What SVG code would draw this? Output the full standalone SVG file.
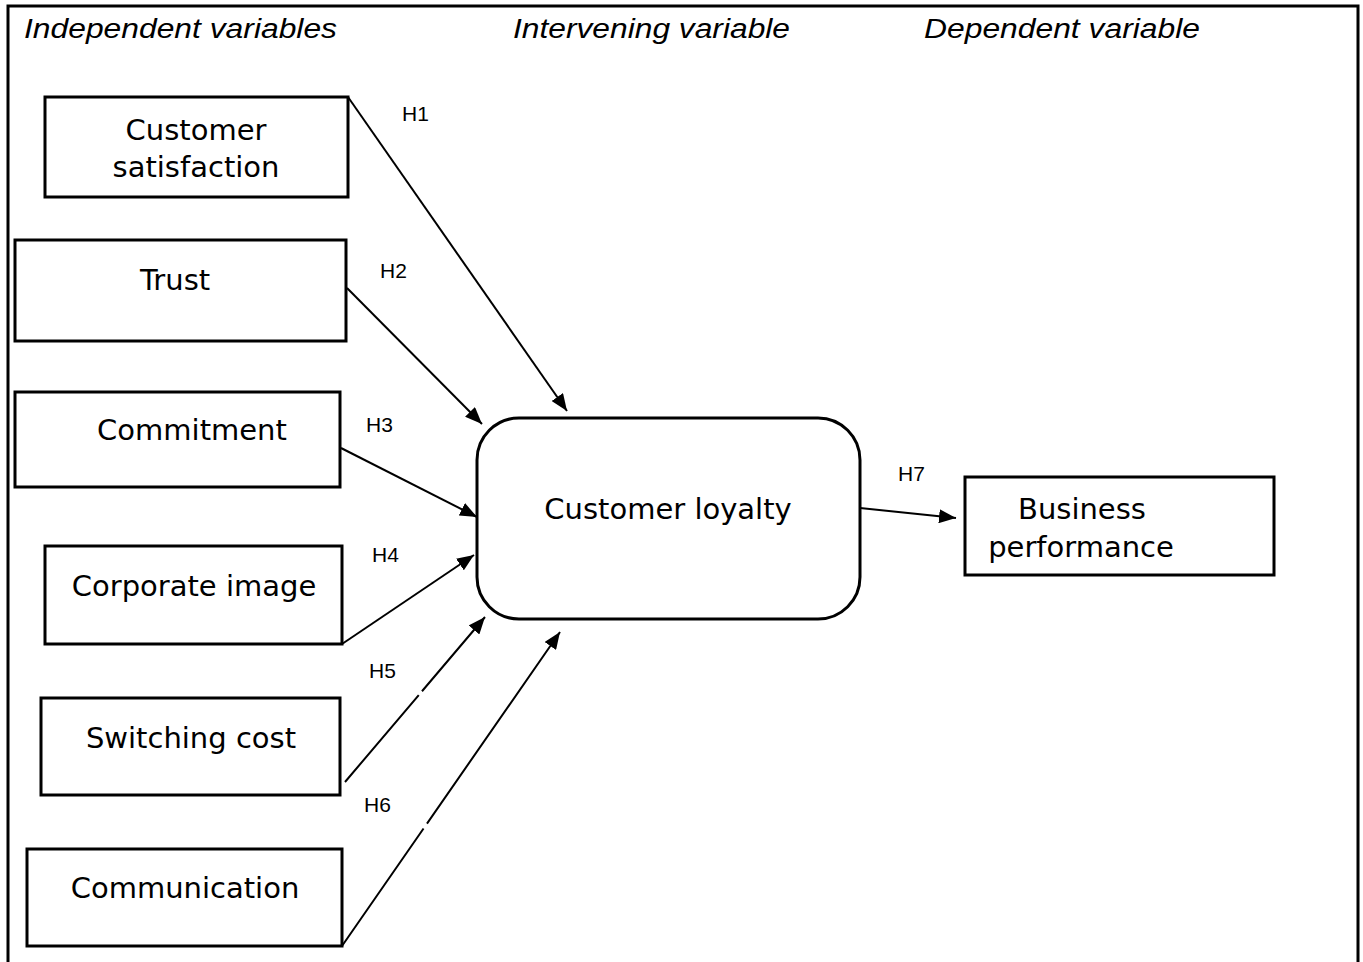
<svg xmlns="http://www.w3.org/2000/svg" width="1363" height="962" viewBox="0 0 1363 962">
  <style>
    .box { fill: #fff; stroke: #000; stroke-width: 3; }
    .node { font-family: "DejaVu Sans", Verdana, sans-serif; font-size: 29px; fill: #000; }
    .head { font-family: "Liberation Sans", Arial, sans-serif; font-size: 27px; font-style: italic; fill: #000; }
    .hyp { font-family: "Liberation Sans", Arial, sans-serif; font-size: 21px; fill: #000; }
    .edge { stroke: #000; stroke-width: 2; fill: none; marker-end: url(#arrow); }
  </style>
  <defs>
    <marker id="arrow" markerUnits="userSpaceOnUse" markerWidth="18" markerHeight="14" refX="17" refY="7" orient="auto">
      <path d="M0,0 L17,7 L0,14 Z" fill="#000"/>
    </marker>
  </defs>
  <rect width="1363" height="962" fill="#fff"/>

  <!-- frame (open at the bottom) -->
  <path d="M8,962 L8,6 L1358,6 L1358,962" fill="none" stroke="#000" stroke-width="3"/>

  <!-- column headings -->
  <text class="head" x="24" y="38" textLength="313" lengthAdjust="spacingAndGlyphs">Independent variables</text>
  <text class="head" x="513" y="38" textLength="277" lengthAdjust="spacingAndGlyphs">Intervening variable</text>
  <text class="head" x="924" y="38" textLength="276" lengthAdjust="spacingAndGlyphs">Dependent variable</text>

  <!-- connectors -->
  <g id="connectors">
    <line class="edge" x1="348" y1="97" x2="567" y2="411"/>
    <line class="edge" x1="347" y1="288" x2="482" y2="424"/>
    <line class="edge" x1="341" y1="448" x2="477" y2="517"/>
    <line class="edge" x1="342" y1="644" x2="474" y2="555"/>
    <line class="edge" x1="345" y1="782" x2="485" y2="617" stroke-dasharray="114 5 300"/>
    <line class="edge" x1="342" y1="946" x2="560" y2="632" stroke-dasharray="143 6 400"/>
    <line class="edge" x1="860" y1="508" x2="956" y2="518"/>
    <text class="hyp" x="402" y="121">H1</text>
    <text class="hyp" x="380" y="278">H2</text>
    <text class="hyp" x="366" y="432">H3</text>
    <text class="hyp" x="372" y="562">H4</text>
    <text class="hyp" x="369" y="678">H5</text>
    <text class="hyp" x="364" y="812">H6</text>
    <text class="hyp" x="898" y="481">H7</text>
  </g>

  <g id="customer-satisfaction">
    <rect class="box" x="45" y="97" width="303" height="100"/>
    <text class="node" x="196" y="140" text-anchor="middle">Customer</text>
    <text class="node" x="196" y="177" text-anchor="middle">satisfaction</text>
  </g>
  <g id="trust">
    <rect class="box" x="15" y="240" width="331" height="101"/>
    <text class="node" x="175" y="290" text-anchor="middle">Trust</text>
  </g>
  <g id="commitment">
    <rect class="box" x="15" y="392" width="325" height="95"/>
    <text class="node" x="192" y="440" text-anchor="middle">Commitment</text>
  </g>
  <g id="corporate-image">
    <rect class="box" x="45" y="546" width="297" height="98"/>
    <text class="node" x="194" y="596" text-anchor="middle">Corporate image</text>
  </g>
  <g id="switching-cost">
    <rect class="box" x="41" y="698" width="299" height="97"/>
    <text class="node" x="191" y="748" text-anchor="middle">Switching cost</text>
  </g>
  <g id="communication">
    <rect class="box" x="27" y="849" width="315" height="97"/>
    <text class="node" x="185" y="898" text-anchor="middle">Communication</text>
  </g>
  <g id="customer-loyalty">
    <rect class="box" x="477" y="418" width="383" height="201" rx="42" ry="42"/>
    <text class="node" x="668" y="519" text-anchor="middle">Customer loyalty</text>
  </g>
  <g id="business-performance">
    <rect class="box" x="965" y="477" width="309" height="98"/>
    <text class="node" x="1082" y="519" text-anchor="middle">Business</text>
    <text class="node" x="1081" y="557" text-anchor="middle">performance</text>
  </g>
</svg>
